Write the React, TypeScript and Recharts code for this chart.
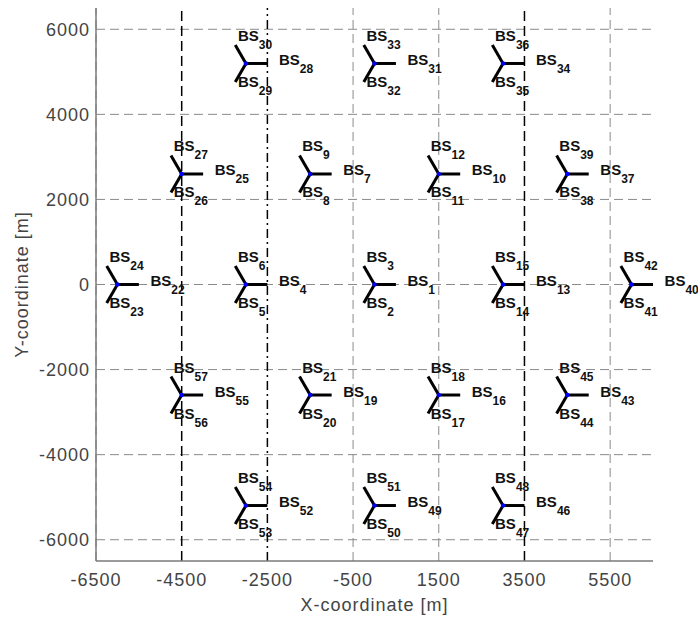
import { ScatterChart, Scatter, XAxis, YAxis, ReferenceLine } from 'recharts';

// site centres [m]
const siteX = [0, -3000, -1500, 1500, 3000, 1500, -1500, -6000, -4500, -3000, 0, 3000, 4500, 6000, 4500, 3000, 0, -3000, -4500];
const siteY = [0, 0, 2598, 2598, 0, -2598, -2598, 0, 2598, 5196, 5196, 5196, 2598, 0, -2598, -5196, -5196, -5196, -2598];

// sector ids per site
const rightIds = [1, 4, 7, 10, 13, 16, 19, 22, 25, 28, 31, 34, 37, 40, 43, 46, 49, 52, 55];
const lowerIds = [2, 5, 8, 11, 14, 17, 20, 23, 26, 29, 32, 35, 38, 41, 44, 47, 50, 53, 56];
const upperIds = [3, 6, 9, 12, 15, 18, 21, 24, 27, 30, 33, 36, 39, 42, 45, 48, 51, 54, 57];

const sectorAngles = [0, 120, 240];
const armLength = 500;

const xTicks = [-6500, -4500, -2500, -500, 1500, 3500, 5500];
const yTicks = [-6000, -4000, -2000, 0, 2000, 4000, 6000];

const boundaryX = [-4500, -2500, 3500];
const boundaryDash = ['10 5', '9 4 2 4', '10 5'];

const sites = siteX.map((x, i) => ({
  x,
  y: siteY[i],
  right: rightIds[i],
  lower: lowerIds[i],
  upper: upperIds[i],
}));

const arms = sites.flatMap((s) =>
  sectorAngles.map((a) => {
    const r = (a * Math.PI) / 180;
    return { x1: s.x, y1: s.y, x2: s.x + armLength * Math.cos(r), y2: s.y + armLength * Math.sin(r) };
  })
);

const FONT = '"Liberation Sans", Arial, sans-serif';
const GRID = '#8a8a8a';

function BsLabel({ x, y, id }: { x: number; y: number; id: number }) {
  return (
    <text x={x} y={y} fontFamily={FONT} fontWeight="bold" fontSize={15} fill="#111">
      <tspan>BS</tspan>
      <tspan fontSize={12} dy={8}>{id}</tspan>
    </text>
  );
}

function SiteMark(props: any) {
  const { cx, cy, payload } = props;
  return (
    <g>
      <circle cx={cx} cy={cy} r={2.2} fill="#0000ff" />
      <BsLabel x={cx - 8} y={cy - 22.5} id={payload.upper} />
      <BsLabel x={cx + 33} y={cy + 1.5} id={payload.right} />
      <BsLabel x={cx - 8} y={cy + 23.5} id={payload.lower} />
    </g>
  );
}

const tickStyle = { fill: '#444', fontSize: 18, fontFamily: FONT, letterSpacing: 1 };

export default function App() {
  return (
    <div style={{ position: 'absolute', left: 0, top: 0, background: '#fff' }}>
      <ScatterChart width={698} height={623} margin={{ top: 8, right: 45, bottom: 0, left: 0 }}>
        <XAxis
          type="number"
          dataKey="x"
          domain={[-6500, 6500]}
          ticks={xTicks}
          interval={0}
          height={62}
          tickLine={false}
          tickSize={6}
          tickMargin={6}
          axisLine={{ stroke: '#7a7a7a', strokeWidth: 1.5 }}
          tick={tickStyle}
          label={{
            content: ({ viewBox }: any) => (
              <text
                x={viewBox.x + viewBox.width / 2}
                y={viewBox.y + 50}
                textAnchor="middle"
                fontFamily={FONT}
                fontSize={18}
                letterSpacing={1}
                fill="#444"
              >
                X-coordinate [m]
              </text>
            ),
          }}
        />
        <YAxis
          type="number"
          dataKey="y"
          domain={[-6500, 6500]}
          ticks={yTicks}
          interval={0}
          width={96}
          tickLine={false}
          tickSize={4}
          tickMargin={2}
          axisLine={{ stroke: '#7a7a7a', strokeWidth: 1.5 }}
          tick={tickStyle}
          label={{
            content: ({ viewBox }: any) => {
              const x = viewBox.x + 28;
              const y = viewBox.y + viewBox.height / 2;
              return (
                <text
                  x={x}
                  y={y}
                  transform={`rotate(-90 ${x} ${y})`}
                  textAnchor="middle"
                  fontFamily={FONT}
                  fontSize={18}
                  letterSpacing={1}
                  fill="#444"
                >
                  Y-coordinate [m]
                </text>
              );
            },
          }}
        />
        {/* dashed grid, only at ticks (no box on top/right) */}
        {yTicks.map((t) => (
          <ReferenceLine key={`gy${t}`} y={t} stroke={GRID} strokeDasharray="9 5" />
        ))}
        {xTicks
          .filter((t) => !boundaryX.includes(t))
          .map((t) => (
            <ReferenceLine key={`gx${t}`} x={t} stroke={GRID} strokeDasharray="9 5" />
          ))}
        {boundaryX.map((bx, i) => (
          <ReferenceLine key={`b${bx}`} x={bx} stroke="#000" strokeWidth={1.5} strokeDasharray={boundaryDash[i]} />
        ))}
        {arms.map((a, i) => (
          <ReferenceLine
            key={`a${i}`}
            segment={[{ x: a.x1, y: a.y1 }, { x: a.x2, y: a.y2 }]}
            stroke="#000"
            strokeWidth={3}
            ifOverflow="extendDomain"
          />
        ))}
        <Scatter data={sites} isAnimationActive={false} shape={SiteMark} />
      </ScatterChart>
    </div>
  );
}
